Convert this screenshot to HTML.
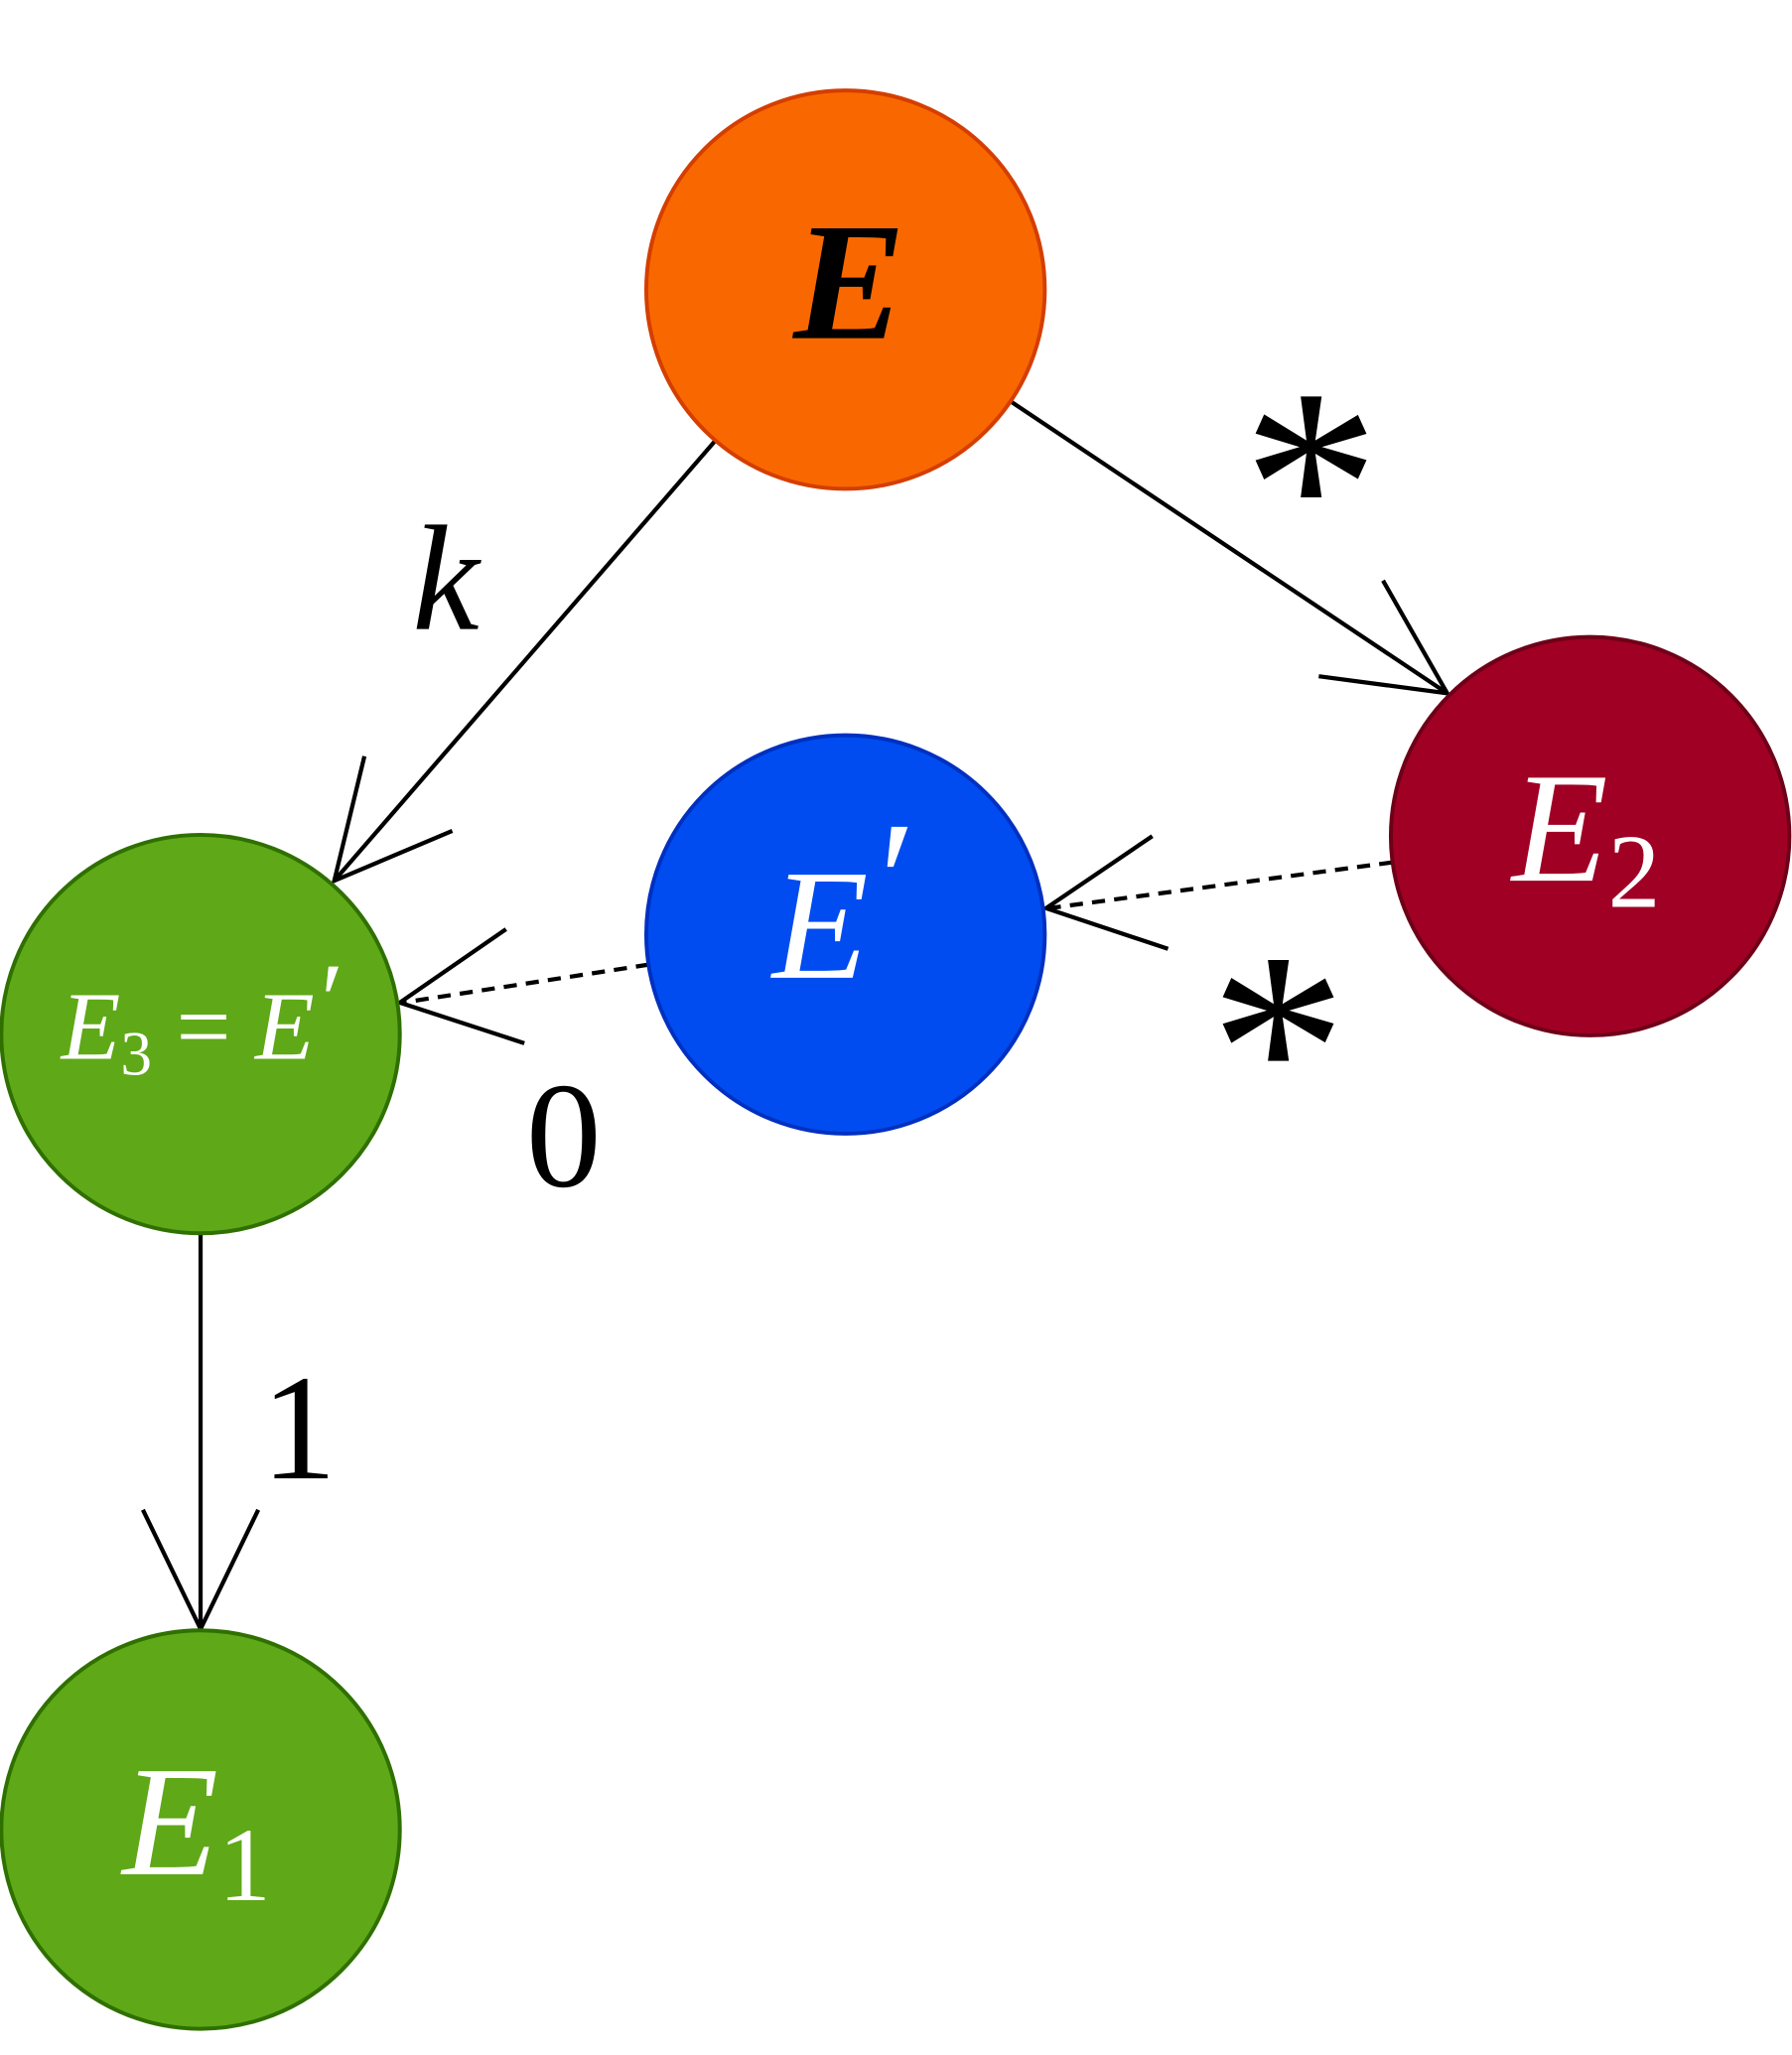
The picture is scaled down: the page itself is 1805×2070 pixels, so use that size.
<!DOCTYPE html>
<html>
<head>
<meta charset="utf-8">
<style>
  html,body{margin:0;padding:0;background:#fff;}
  svg{display:block;}
  text{font-family:"Liberation Serif","DejaVu Serif",serif;}
</style>
</head>
<body>
<svg width="1805" height="2070" viewBox="0 0 1367 1568" preserveAspectRatio="none" xmlns="http://www.w3.org/2000/svg">
  <g stroke="#000" stroke-width="3.2" fill="none">
    <g>
      <line x1="545" y1="337" x2="255" y2="672"/>
      <polyline points="278,577 255,672 345,634"/>
    </g>
    <g>
      <line x1="772" y1="307" x2="1104" y2="529"/>
      <polyline points="1055,443 1104,529 1006,516"/>
    </g>
    <g>
      <line x1="1062" y1="658" x2="800" y2="693" stroke-dasharray="10,7"/>
      <polyline points="879,638 798,693 891,724"/>
    </g>
    <g>
      <line x1="495" y1="736" x2="307" y2="765" stroke-dasharray="10,7"/>
      <polyline points="386,709 305,765 400,796"/>
    </g>
    <g>
      <line x1="153" y1="941" x2="153" y2="1243"/>
      <polyline points="109,1152 153,1243 197,1152"/>
    </g>
  </g>

  <g fill="#000">
    <text x="340" y="480" font-size="115" font-style="italic" text-anchor="middle">k</text>
    <text x="1000" y="440" font-size="210" text-anchor="middle">*</text>
    <text x="975" y="870" font-size="210" text-anchor="middle">*</text>
    <text x="430" y="905" font-size="115" text-anchor="middle">0</text>
    <text x="228" y="1128" font-size="115" text-anchor="middle">1</text>
  </g>

  <g>
    <circle cx="645" cy="221" r="152" fill="#F96800" stroke="#D43E00" stroke-width="3"/>
    <text x="648" y="258" font-size="128" font-weight="bold" font-style="italic" text-anchor="middle" fill="#000">E</text>
  </g>
  <g>
    <circle cx="1213" cy="638" r="152" fill="#A00024" stroke="#6E0018" stroke-width="3"/>
    <text x="1210" y="672" font-size="120" font-style="italic" text-anchor="middle" fill="#fff">E<tspan font-style="normal" font-size="80" dy="20">2</tspan></text>
  </g>
  <g>
    <circle cx="645" cy="713" r="152" fill="#004CF0" stroke="#0030C0" stroke-width="3"/>
    <text x="640" y="746" font-size="120" font-style="italic" text-anchor="middle" fill="#fff">E<tspan font-size="130" dy="-30">′</tspan></text>
  </g>
  <g>
    <circle cx="153" cy="789" r="152" fill="#5FA818" stroke="#2F7000" stroke-width="3"/>
    <text x="152" y="808" font-size="74" font-style="italic" text-anchor="middle" fill="#fff">E<tspan font-style="normal" font-size="48" dy="12">3</tspan><tspan font-style="normal" dy="-12"> = </tspan>E<tspan font-size="80" dy="-18">′</tspan></text>
  </g>
  <g>
    <circle cx="153" cy="1396" r="152" fill="#5FA818" stroke="#2F7000" stroke-width="3"/>
    <text x="150" y="1430" font-size="120" font-style="italic" text-anchor="middle" fill="#fff">E<tspan font-style="normal" font-size="80" dy="20">1</tspan></text>
  </g>
</svg>
</body>
</html>
